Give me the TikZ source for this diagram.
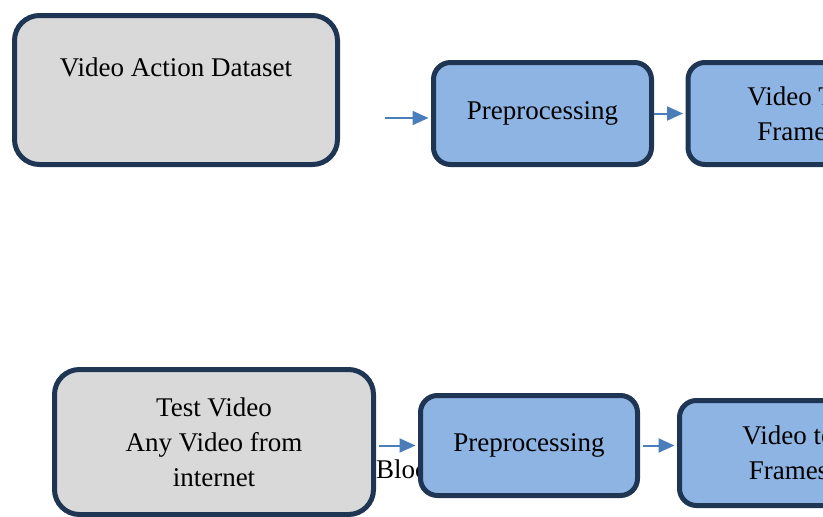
\documentclass[tikz,border=0pt]{standalone}
\usepackage{fontspec}
\setmainfont{Liberation Serif}
\usetikzlibrary{arrows.meta}
\definecolor{boxline}{RGB}{31,53,84}
\definecolor{boxgray}{RGB}{217,217,217}
\definecolor{boxblue}{RGB}{142,180,227}
\definecolor{flowblue}{RGB}{74,126,187}
\tikzstyle{source} = [rectangle, rounded corners=25pt, draw=boxline, line width=5pt, fill=boxgray, align=center, inner sep=0pt, font=\fontsize{27}{35}\selectfont]
\tikzstyle{process} = [rectangle, rounded corners=17pt, draw=boxline, line width=5pt, fill=boxblue, minimum width=218pt, align=center, inner sep=0pt, font=\fontsize{27}{35}\selectfont]
\tikzstyle{flow} = [-{Triangle[length=16pt,width=14pt]}, draw=flowblue, line width=2pt, shorten >=2.5pt]

\begin{document}
\begin{tikzpicture}[x=1pt,y=-1pt]
        \useasboundingbox (0,0) rectangle (823,517);
        \clip (0,0) rectangle (823,517);
        \node[anchor=base west, inner sep=0pt, font=\fontsize{27}{35}\selectfont] (blk) at (376,478) {Block};
        \node[source, minimum width=323pt, minimum height=149pt] (data) at (176,90) {Video Action Dataset\\\strut};
        \node[process, minimum height=102pt] (pre1) at (542.5,113.5) {Preprocessing};
        \node[process, minimum height=102pt] (vid1) at (797,113.5) {Video To\\Frames};
        \node[source, minimum width=319pt, minimum height=145pt] (test) at (214,442) {Test Video\\Any Video from\\internet};
        \node[process, minimum width=217pt, minimum height=100pt] (pre2) at (529,445.5) {Preprocessing};
        \node[process, minimum height=105pt] (vid2) at (788.5,453) {Video to\\Frames};
        \coordinate (in1) at (385,118);
    \begin{scope}[flow]
        \draw (in1) -- (in1 -| pre1.west);
        \draw (pre1) -- (vid1);
        \draw[shorten <=2.5pt] (test.east |- pre2.west) -- (pre2.west);
        \draw[shorten <=2.5pt] (pre2.east) -- (pre2.east -| vid2.west);
    \end{scope}
\end{tikzpicture}
\end{document}
